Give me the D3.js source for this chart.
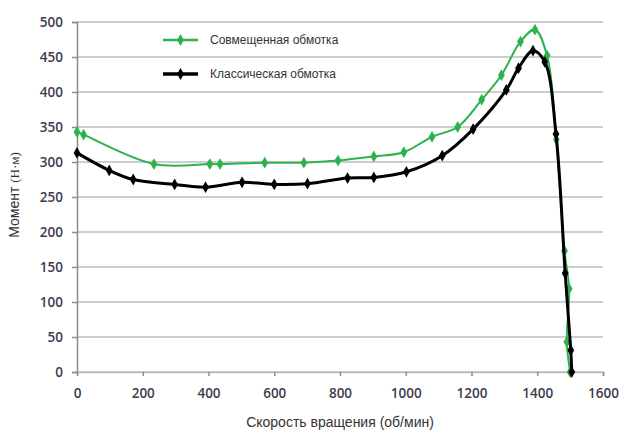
<!DOCTYPE html>
<html>
<head>
<meta charset="utf-8">
<script src="https://cdn.jsdelivr.net/npm/d3@7"></script>
<style>
  body { margin: 0; background: #fff; }
  svg text { font-family: "Liberation Sans", Arial, sans-serif; }
</style>
</head>
<body>
<div id="chart"></div>
<script>
// data
const combinedSpeed = [0, 20, 234, 404, 435, 571, 690, 794, 903, 994, 1080, 1158, 1231, 1291, 1349, 1393, 1430, 1458, 1483, 1497, 1490, 1500]
const combinedTorque = [343, 339, 297, 297, 297, 299, 299, 302, 308, 314, 336, 350, 389, 424, 472, 489, 452, 332, 173, 119, 43, 0]

const classicSpeed = [0, 98, 171, 297, 391, 502, 600, 701, 823, 903, 1002, 1111, 1205, 1306, 1343, 1387, 1423, 1457, 1485, 1502, 1505]
const classicTorque = [313, 288, 275, 268, 264, 271, 268, 269, 277, 278, 286, 309, 347, 403, 434, 459, 443, 340, 141, 31, 0]

const xTicks = [0, 200, 400, 600, 800, 1000, 1200, 1400, 1600]
const yTicks = [0, 50, 100, 150, 200, 250, 300, 350, 400, 450, 500]

const seriesNames = ['Совмещенная обмотка', 'Классическая обмотка']
const seriesColors = ['#2bb24c', '#000000']

const margin = { top: 22, left: 77, right: 19, bottom: 59 }
const width = 622 - margin.left - margin.right
const height = 431 - margin.top - margin.bottom

const svg = d3
  .select('#chart')
  .append('svg')
  .attr('width', 622)
  .attr('height', 431)
  .append('g')
  .attr('transform', 'translate(' + margin.left + ',' + margin.top + ')')

const x = d3.scaleLinear().domain([0, 1600]).range([0, width])
const y = d3.scaleLinear().domain([0, 500]).range([height, 0])

// horizontal grid
svg.selectAll('.grid')
  .data(yTicks)
  .enter()
  .append('line')
  .attr('x1', 0)
  .attr('x2', width)
  .attr('y1', d => y(d))
  .attr('y2', d => y(d))
  .attr('stroke', '#bdbdbd')
  .attr('stroke-width', 1.5)

// axes
const xAxis = svg.append('g')
  .attr('transform', 'translate(0,' + height + ')')
  .call(d3.axisBottom(x).tickValues(xTicks).tickFormat(d3.format('d')).tickSize(4).tickPadding(12))
const yAxis = svg.append('g')
  .call(d3.axisLeft(y).tickValues(yTicks).tickFormat(d3.format('d')).tickSize(5).tickPadding(9))

;[xAxis, yAxis].forEach(a => {
  a.select('.domain').attr('stroke', '#8c8c8c').attr('stroke-width', 1.5)
  a.selectAll('.tick line').attr('stroke', '#8c8c8c').attr('stroke-width', 1.5)
  a.selectAll('.tick text')
    .attr('fill', '#3c3c4e')
    .style('font-size', '13.5px')
    .style('font-weight', '600')
    .style('font-family', '"Open Sans", "Liberation Sans", sans-serif')
})
xAxis.select('.domain').attr('stroke', '#bdbdbd')

// axis titles
svg.append('text')
  .attr('x', width / 2)
  .attr('y', height + 55)
  .attr('text-anchor', 'middle')
  .attr('fill', '#333')
  .style('font-size', '14px')
  .text('Скорость вращения (об/мин)')

const yTitle = svg.append('text')
  .attr('transform', 'translate(-58,' + (height / 2 - 2) + ') rotate(-90)')
  .attr('text-anchor', 'middle')
  .attr('fill', '#333')
  .style('font-size', '14px')
yTitle.append('tspan').text('Момент ')
yTitle.append('tspan')
  .style('font-family', '"Liberation Serif", serif')
  .style('font-size', '13px')
  .text('(Н·м)')

const line = d3.line()
  .x(d => x(d[0]))
  .y(d => y(d[1]))
  .curve(d3.curveCatmullRom.alpha(0.5))

const diamond = d3.symbol().type(d3.symbolDiamond)

const series = [
  { pts: d3.zip(combinedSpeed, combinedTorque), color: seriesColors[0], lw: 2, ms: 40 },
  { pts: d3.zip(classicSpeed, classicTorque), color: seriesColors[1], lw: 3, ms: 40 }
]

series.forEach(s => {
  svg.append('path')
    .datum(s.pts)
    .attr('fill', 'none')
    .attr('stroke', s.color)
    .attr('stroke-width', s.lw)
    .attr('stroke-linejoin', 'round')
    .attr('d', line)

  svg.selectAll(null)
    .data(s.pts)
    .enter()
    .append('path')
    .attr('transform', d => 'translate(' + x(d[0]) + ',' + y(d[1]) + ')')
    .attr('d', diamond.size(s.ms)())
    .attr('fill', s.color)
})

// legend
const legend = svg.append('g').attr('transform', 'translate(86,18)')
series.forEach((s, i) => {
  const g = legend.append('g').attr('transform', 'translate(0,' + i * 34 + ')')
  g.append('line')
    .attr('x1', 0).attr('x2', 35)
    .attr('stroke', s.color)
    .attr('stroke-width', s.lw + 0.5)
  g.append('path')
    .attr('transform', 'translate(17.5,0)')
    .attr('d', diamond.size(s.ms)())
    .attr('fill', s.color)
  g.append('text')
    .attr('x', 47)
    .attr('y', 4)
    .attr('fill', '#333')
    .style('font-size', '12px')
    .text(seriesNames[i])
})
</script>
</body>
</html>
